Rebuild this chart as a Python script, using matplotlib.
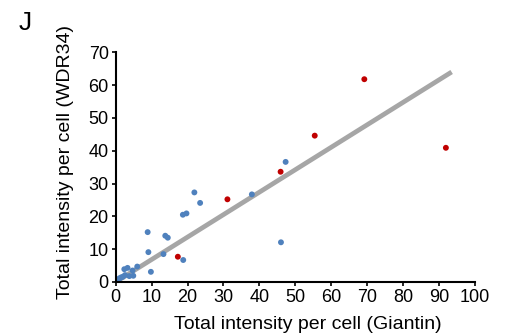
import numpy as np
import matplotlib.pyplot as plt

plt.rcParams['font.family'] = ['Liberation Sans', 'DejaVu Sans']

# points bleus
blue_x = [47.3, 37.9, 46.0, 21.9, 23.5, 18.7, 19.7, 8.9, 13.8, 14.5, 9.1, 13.3,
          18.8, 9.8, 6.0, 2.4, 3.3, 4.7, 4.9, 3.8, 2.6, 1.5, 1.0, 0.4, 2.0, 0.2, 0.8]
blue_y = [36.6, 26.7, 12.1, 27.3, 24.1, 20.5, 20.9, 15.2, 14.1, 13.5, 9.1, 8.5,
          6.7, 3.1, 4.7, 3.9, 4.3, 3.5, 1.9, 1.8, 2.1, 1.4, 1.1, 0.6, 1.6, 0.2, 0.4]

# points rouges
red_x = [17.3, 31.1, 45.9, 55.4, 69.2, 91.9]
red_y = [7.7, 25.2, 33.6, 44.6, 61.8, 40.9]

# droite de tendance
line_x = [0, 93.5]
line_y = [0, 64.0]

fig = plt.figure(figsize=(5.13, 3.34), dpi=100)
ax = fig.add_axes([0.2255, 0.1557, 0.7004, 0.6877])

ax.plot(line_x, line_y, color='#a6a6a6', lw=3.4, solid_capstyle='butt', zorder=1)
ax.scatter(blue_x, blue_y, s=18, color='#4f81bd', edgecolors='none', zorder=2)
ax.scatter(red_x, red_y, s=18, color='#c00000', edgecolors='none', zorder=3)

ax.set_xlim(0, 100)
ax.set_ylim(0, 70)
ax.set_xticks(np.arange(0, 101, 10))
ax.set_yticks(np.arange(0, 71, 10))
ax.spines['top'].set_visible(False)
ax.spines['right'].set_visible(False)
ax.spines['left'].set_linewidth(1.5)
ax.spines['bottom'].set_linewidth(1.5)
ax.tick_params(direction='out', length=3, width=1.2, labelsize=13, pad=2)

# titres des axes
fig.text(0.600, 0.016, 'Total intensity per cell (Giantin)', fontsize=14,
         ha='center', va='baseline')
fig.text(0.127, 0.515, 'Total intensity per cell (WDR34)', fontsize=14,
         rotation=90, ha='center', va='center')
fig.text(0.049, 0.931, 'J', fontsize=19, ha='center', va='center')

fig.savefig('out.png', dpi=100)
